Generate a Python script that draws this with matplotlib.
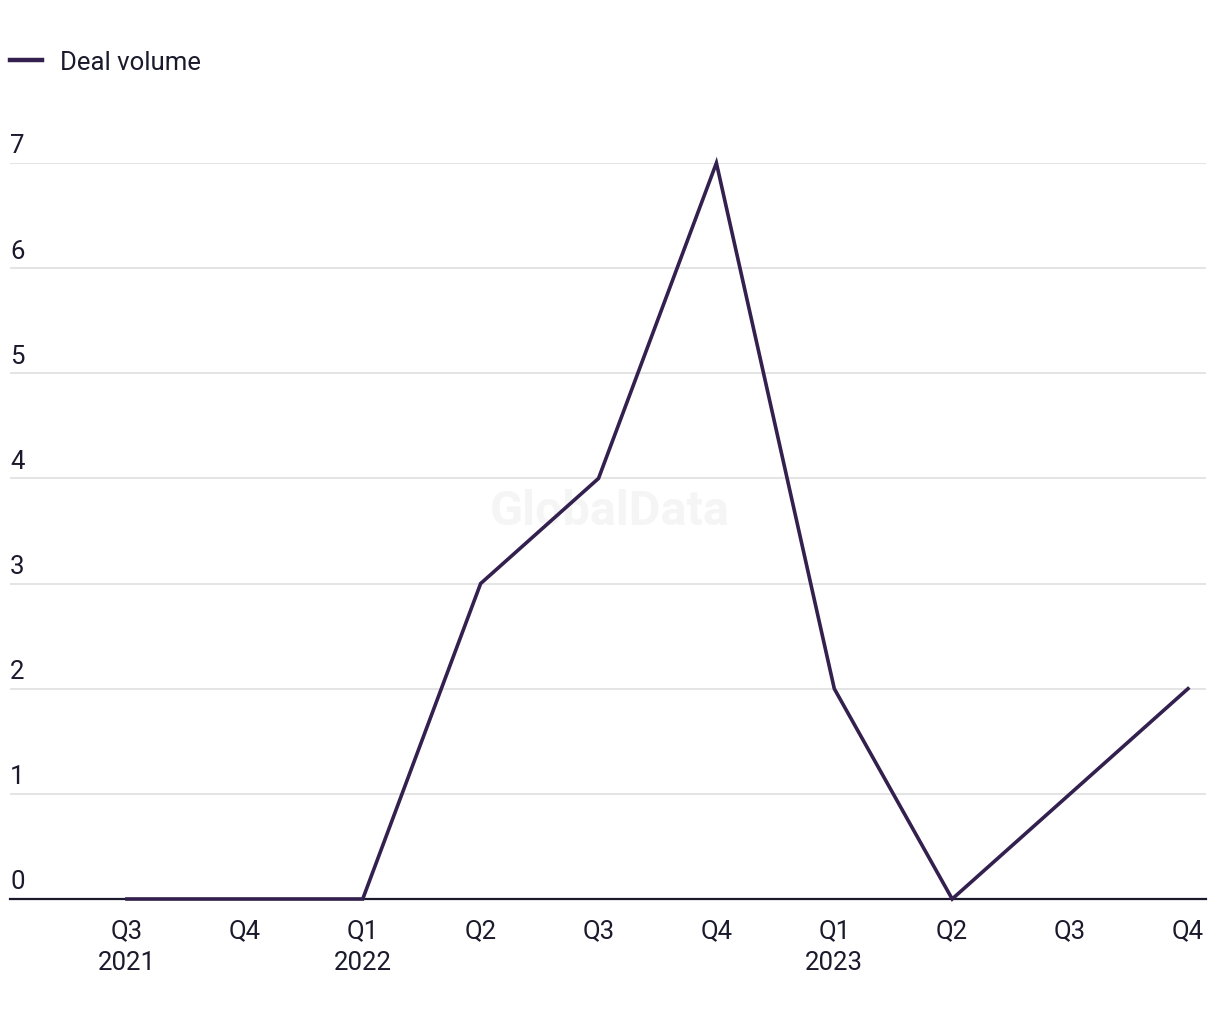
import matplotlib.pyplot as plt
from matplotlib.transforms import offset_copy

quarters = ["Q3\n2021", "Q4", "Q1\n2022", "Q2", "Q3", "Q4", "Q1\n2023", "Q2", "Q3", "Q4"]
deal_volume = [0, 0, 0, 3, 4, 7, 2, 0, 1, 2]
y_ticks = [0, 1, 2, 3, 4, 5, 6, 7]

LINE = "#33204e"
TEXT = "#1b1a2c"
GRID = "#dcdcdc"

plt.rcParams["font.family"] = ["Roboto", "DejaVu Sans"]

fig = plt.figure(figsize=(12.2, 10.2), dpi=100)
W, H = 1220, 1020
ax = fig.add_axes([10 / W, (H - 900) / H, 1196 / W, (900 - 164) / H])

x = list(range(len(quarters)))
ax.plot(x, deal_volume, color=LINE, lw=2.6, label="Deal volume", zorder=3,
        solid_joinstyle="miter", clip_on=False)

ax.set_ylim(0, 7)
ax.set_xlim(-0.992, 9.153)

for s in ["top", "right", "left"]:
    ax.spines[s].set_visible(False)
ax.spines["bottom"].set_color(TEXT)
ax.spines["bottom"].set_linewidth(1.6)
ax.spines["bottom"].set_zorder(2)

ax.set_yticks(y_ticks)
ax.set_yticklabels([])
ax.tick_params(axis="y", length=0)
ax.grid(axis="y", color=GRID, lw=1.1)
ax.set_axisbelow(True)
ytrans = offset_copy(ax.get_yaxis_transform(), fig=fig, x=0, y=4, units="points")
for t in y_ticks:
    ax.text(0.0, t, str(t), transform=ytrans, ha="left",
            va="bottom", fontsize=18.5, color=TEXT)

ax.set_xticks(x)
ax.set_xticklabels(quarters, fontsize=18.5, color=TEXT, linespacing=1.38, va="top")
ax.tick_params(axis="x", length=0, pad=14)

ax.text(0.5, 0.498, "GlobalData", transform=fig.transFigure, ha="center",
        va="center", fontsize=35, fontweight="bold", color="#f5f5f5", zorder=0)

leg = fig.legend(loc="center left", bbox_to_anchor=(10 / W, 1 - 63 / H), frameon=False,
                 fontsize=18.5, handlelength=1.25, handletextpad=0.7, borderpad=0,
                 borderaxespad=0, labelcolor=TEXT)
for h in leg.legend_handles:
    h.set_linewidth(3.2)

fig.savefig("out.png", dpi=100)
